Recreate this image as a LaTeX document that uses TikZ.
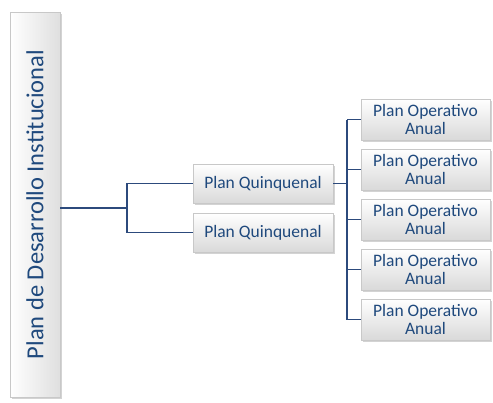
\documentclass[tikz,border=0pt]{standalone}
\usepackage{fontspec}
\setmainfont{Carlito}
\usetikzlibrary{shadows}
\definecolor{txt}{HTML}{1F497D}
\definecolor{con}{HTML}{2C4A7C}
\definecolor{bord}{HTML}{C8C8C8}
\begin{document}
\begin{tikzpicture}[x=1pt,y=-1pt,
  box/.style={draw=bord, line width=0.6pt, top color=white, bottom color=gray!30,
    drop shadow={shadow xshift=1.5pt, shadow yshift=-1.5pt, opacity=0.35, fill=gray},
    text=txt, align=center, inner sep=0pt, font=\fontsize{17.5}{17.5}\selectfont},
  conn/.style={draw=con, line width=1.4pt}]
\useasboundingbox (0,0) rectangle (493,402);
\node[box, left color=white, right color=gray!25, minimum width=50pt, minimum height=385pt,
  font=\fontsize{24.5}{24.5}\selectfont] (pdi) at (35,204.5)
  {\rotatebox{90}{Plan de Desarrollo Institucional}};
\node[box, minimum width=140pt, minimum height=39pt] (q1) at (263,183.5) {Plan Quinquenal};
\node[box, minimum width=140pt, minimum height=39pt] (q2) at (263,232.5) {Plan Quinquenal};
\foreach \i/\y in {1/119.5,2/169.5,3/219.5,4/269.5,5/319.5}{
  \node[box, minimum width=129pt, minimum height=41pt] (o\i) at (425.5,\y) {Plan Operativo\\Anual};
}
\coordinate (j1) at (127,208);
\coordinate (j2) at (347,183.5);
\draw[conn] (pdi.east |- j1) -- (j1);
\draw[conn] (q1.west) -| (j1) |- (q2.west);
\draw[conn] (q1.east) -- (j2);
\draw[conn] (j2 |- o1.west) -- (j2 |- o5.west);
\foreach \i in {1,...,5}{
  \draw[conn] (j2 |- o\i.west) -- (o\i.west);
}
\end{tikzpicture}
\end{document}
